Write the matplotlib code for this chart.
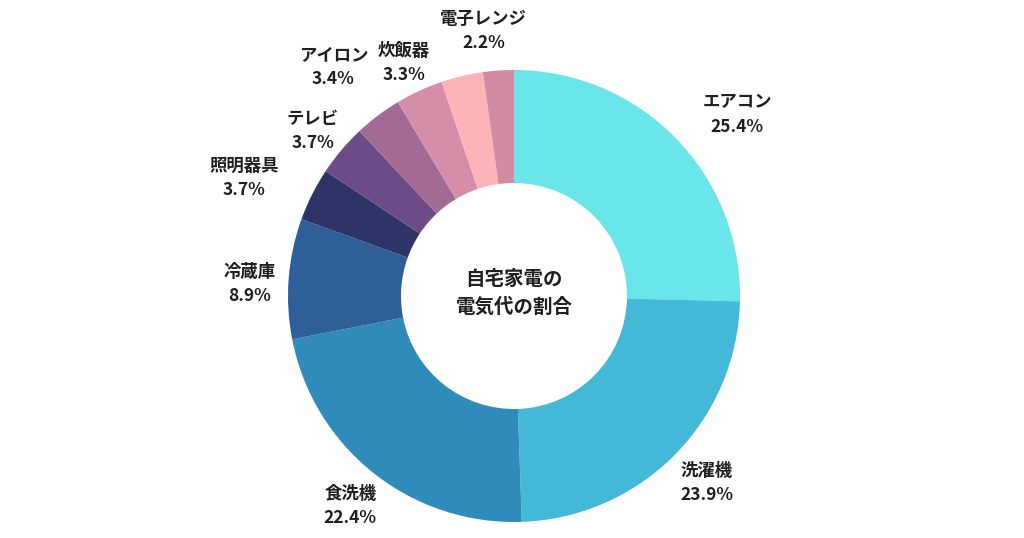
import matplotlib
matplotlib.use("Agg")
import matplotlib.pyplot as plt
import numpy as np

plt.rcParams["font.family"] = ["Noto Sans CJK JP", "DejaVu Sans"]

# slices clockwise from the top; the light pink slice has no label in the original
NAMES = ["エアコン", "洗濯機", "食洗機", "冷蔵庫", "照明器具", "テレビ", "アイロン", "炊飯器", "", "電子レンジ"]
SHARES = [25.4, 24.1, 22.5, 8.6, 3.8, 3.7, 3.4, 3.4, 3.0, 2.2]
PCT_TEXT = ["25.4%", "23.9%", "22.4%", "8.9%", "3.7%", "3.7%", "3.4%", "3.3%", "", "2.2%"]
COLORS = ["#6ae5e9", "#43b8d7", "#2e8bba", "#2e5f98", "#2f3468",
          "#6d4b86", "#a26b95", "#d68ea8", "#feb3b7", "#d18ca4"]
LABEL_R = [1.28, 1.18, 1.17, 1.17, 1.31, 1.16, 1.30, 1.15, 0, 1.19]
LABEL_SHIFT = [4.8, -0.9, -0.2, -1.2, -2.6, -0.4, -0.9, -0.2, 0, -2.6]  # degrees
TITLE = "自宅家電の\n電気代の割合"

W, H = 1024, 538
CX, CY, R = 514, H - 296, 226


def main():
    fig = plt.figure(figsize=(W / 100, H / 100), dpi=100)
    ax = fig.add_axes([0, 0, 1, 1])

    wedges, _ = ax.pie(SHARES, colors=COLORS, startangle=90, counterclock=False,
                       center=(CX, CY), radius=R,
                       wedgeprops=dict(width=R * 0.5, linewidth=0))
    # pie() resets the limits, so set pixel-based limits afterwards
    ax.set_xlim(0, W)
    ax.set_ylim(0, H)
    ax.set_aspect("equal")
    ax.axis("off")

    total = sum(SHARES)
    start = 0.0
    for name, share, pct, rf, shift in zip(NAMES, SHARES, PCT_TEXT, LABEL_R, LABEL_SHIFT):
        mid = start + share / total * 360 / 2
        start += share / total * 360
        if not name:
            continue
        a = np.deg2rad(mid + shift)
        x = CX + R * rf * np.sin(a)
        y = CY + R * rf * np.cos(a) - 2.5
        ax.text(x, y, f"{name}\n{pct}", ha="center", va="center", fontsize=12.5,
                fontweight="bold", color="#1f1f1f", linespacing=1.45)

    ax.text(CX, CY + 3, TITLE, ha="center", va="center", fontsize=14,
            fontweight="bold", color="#1f1f1f", linespacing=1.55)

    fig.savefig("out.png", dpi=100)


if __name__ == "__main__":
    main()
